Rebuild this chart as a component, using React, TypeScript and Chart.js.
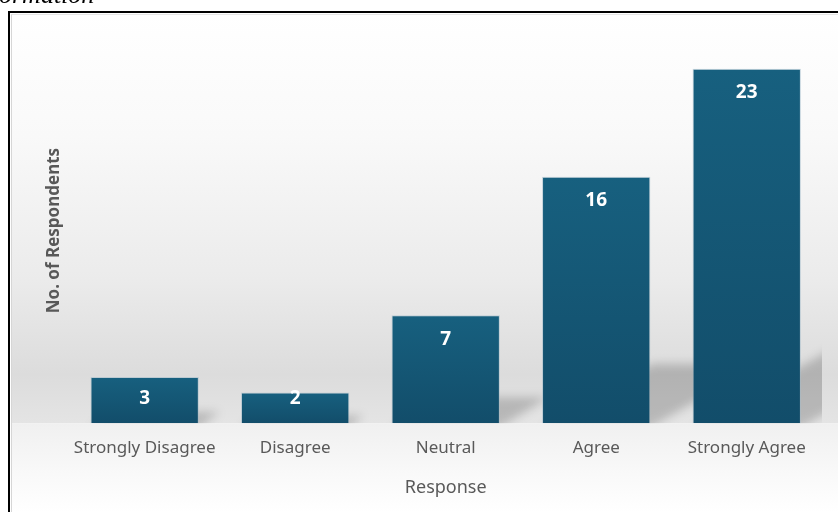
import React, { useEffect, useRef } from "react";
import { Chart, registerables } from "chart.js";

Chart.register(...registerables);

const categories = ["Strongly Disagree", "Disagree", "Neutral", "Agree", "Strongly Agree"];
const respondents = [3, 2, 7, 16, 23];
const xTitle = "Response";
const yTitle = "No. of Respondents";
const captionFragment = "ormation";
const yMax = 25;

const FONT = "'Noto Sans', 'Open Sans', sans-serif";

const bgPlugin = {
  id: "bgPlugin",
  beforeDraw(chart: any) {
    const { ctx, width, height, chartArea } = chart;
    ctx.save();
    ctx.fillStyle = "#ffffff";
    ctx.fillRect(0, 0, width, height);
    const base = chartArea.bottom;
    const g = ctx.createLinearGradient(0, 14, 0, base);
    g.addColorStop(0, "#ffffff");
    g.addColorStop(0.3, "#f9f9f9");
    g.addColorStop(0.65, "#ebebeb");
    g.addColorStop(0.88, "#dcdcdc");
    g.addColorStop(1, "#e4e4e4");
    ctx.fillStyle = g;
    ctx.fillRect(11, 14, width - 11, base - 14);
    const g2 = ctx.createLinearGradient(0, base, 0, height);
    g2.addColorStop(0, "#f0f0f0");
    g2.addColorStop(0.5, "#f8f8f8");
    g2.addColorStop(1, "#ffffff");
    ctx.fillStyle = g2;
    ctx.fillRect(11, base, width - 11, height - base);
    ctx.restore();
  },
};

const shadowPlugin = {
  id: "shadowPlugin",
  beforeDatasetsDraw(chart: any) {
    const { ctx, chartArea } = chart;
    const meta = chart.getDatasetMeta(0);
    ctx.save();
    ctx.beginPath();
    ctx.rect(chartArea.left, chartArea.top, chartArea.right - chartArea.left, chartArea.bottom - chartArea.top);
    ctx.clip();
    ctx.filter = "blur(5px)";
    ctx.fillStyle = "rgba(0,0,0,0.19)";
    meta.data.forEach((bar: any) => {
      const x0 = bar.x - bar.width / 2;
      const x1 = bar.x + bar.width / 2;
      const base = bar.base;
      const h = base - bar.y;
      const H = 0.24 * h;
      const s = 1.87;
      ctx.beginPath();
      ctx.moveTo(x0, base + 4);
      ctx.lineTo(x1, base + 4);
      ctx.lineTo(x1 + s * H, base - H);
      ctx.lineTo(x0 + s * H, base - H);
      ctx.closePath();
      ctx.fill();
    });
    ctx.restore();
  },
};

const labelPlugin = {
  id: "labelPlugin",
  afterDatasetsDraw(chart: any) {
    const { ctx } = chart;
    const meta = chart.getDatasetMeta(0);
    const values = chart.data.datasets[0].data;
    ctx.save();
    ctx.fillStyle = "#ffffff";
    ctx.font = `bold 19px ${FONT}`;
    ctx.textAlign = "center";
    ctx.textBaseline = "middle";
    meta.data.forEach((bar: any, i: number) => {
      const y = Math.min(bar.y + 24, bar.base - 25);
      ctx.fillText(String(values[i]), bar.x, y);
    });
    ctx.restore();
  },
};

export default function App() {
  const ref = useRef<HTMLCanvasElement>(null);

  useEffect(() => {
    const canvas = ref.current;
    if (!canvas) return;
    const chart = new Chart(canvas, {
      type: "bar",
      data: {
        labels: categories,
        datasets: [
          {
            data: respondents,
            backgroundColor: (c: any) => {
              const ch = c.chart;
              if (!ch.chartArea || c.dataIndex === undefined) return "#165a7a";
              const ys = ch.scales.y;
              const top = ys.getPixelForValue(c.parsed ? c.parsed.y : respondents[c.dataIndex]);
              const bottom = ys.getPixelForValue(0);
              const g = ch.ctx.createLinearGradient(0, top, 0, bottom);
              g.addColorStop(0, "#17607f");
              g.addColorStop(1, "#124d6a");
              return g;
            },
            borderColor: "rgba(160,185,200,0.55)",
            borderWidth: 1,
            categoryPercentage: 1,
            barPercentage: 0.72,
          },
        ],
      },
      options: {
        responsive: false,
        animation: false,
        devicePixelRatio: 1,
        layout: { padding: { left: 38, right: 16, top: 38, bottom: 9.2 } },
        plugins: {
          legend: { display: false },
          tooltip: { enabled: false },
        },
        scales: {
          x: {
            grid: { display: false },
            border: { display: false },
            ticks: { color: "#595959", font: { family: FONT, size: 17 }, padding: 6.4, maxRotation: 0 },
            title: {
              display: true,
              text: xTitle,
              color: "#595959",
              font: { family: FONT, size: 18 },
              padding: { top: 12.8, bottom: 4 },
            },
          },
          y: {
            min: 0,
            max: yMax,
            grid: { display: false },
            border: { display: false },
            ticks: { display: false },
            title: {
              display: true,
              text: yTitle,
              color: "#595959",
              font: { family: FONT, size: 17, weight: "bold" },
              padding: { top: 6, bottom: -3 },
            },
          },
        },
      },
      plugins: [bgPlugin, shadowPlugin, labelPlugin],
    } as any);
    return () => chart.destroy();
  }, []);

  return (
    <div style={{ position: "fixed", left: 0, top: 0, width: 838, height: 512, overflow: "hidden", background: "#fff" }}>
      <canvas ref={ref} width={838} height={512} style={{ position: "absolute", left: 0, top: 0, width: 838, height: 512, display: "block" }} />
      <div
        style={{
          position: "absolute",
          left: -1,
          top: -18,
          fontFamily: "'Liberation Serif', 'Times New Roman', serif",
          fontStyle: "italic",
          fontSize: 26,
          lineHeight: "26px",
          color: "#000",
          whiteSpace: "nowrap",
        }}
      >
        {captionFragment}
      </div>
      <div
        style={{
          position: "absolute",
          left: 8,
          top: 11,
          width: 900,
          height: 600,
          borderLeft: "2px solid #000",
          borderTop: "2px solid #000",
          pointerEvents: "none",
        }}
      />
      <div
        style={{
          position: "absolute",
          left: 11,
          top: 14,
          width: 900,
          height: 600,
          borderLeft: "1px solid #d6d6d6",
          borderTop: "1px solid #e6e6e6",
          pointerEvents: "none",
        }}
      />
    </div>
  );
}
